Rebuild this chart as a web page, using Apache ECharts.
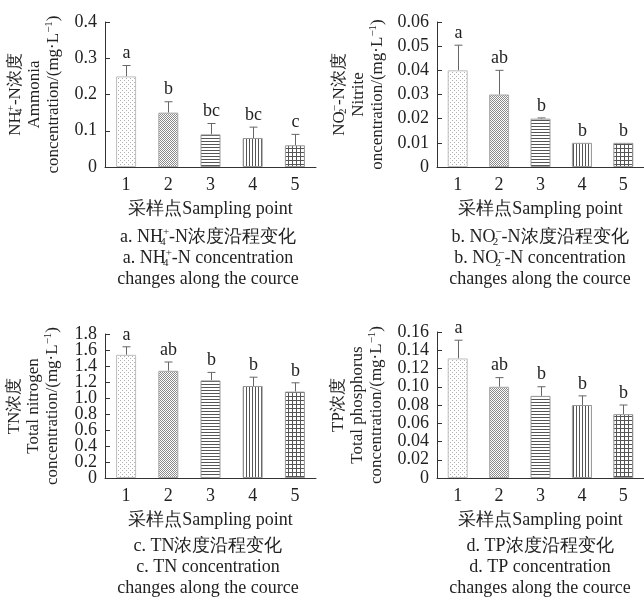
<!DOCTYPE html>
<html>
<head>
<meta charset="utf-8">
<script src="https://cdn.jsdelivr.net/npm/echarts@6/dist/echarts.min.js"></script>
<style>html,body{margin:0;padding:0;background:#fff;}#c{width:644px;height:604px;}</style>
</head>
<body>
<div id="c"></div>
<script>
// ---- data ----
const categories = ['1', '2', '3', '4', '5'];
const nh4Mean = [0.25, 0.15, 0.09, 0.08, 0.06];
const nh4Err  = [0.03, 0.03, 0.03, 0.03, 0.03];
const nh4Sig  = ['a', 'b', 'bc', 'bc', 'c'];
const no2Mean = [0.04, 0.03, 0.02, 0.01, 0.01];
const no2Err  = [0.0104, 0.01, 0.0003, 0, 0];
const no2Sig  = ['a', 'ab', 'b', 'b', 'b'];
const tnMean  = [1.54, 1.34, 1.22, 1.15, 1.08];
const tnErr   = [0.10, 0.11, 0.10, 0.11, 0.11];
const tnSig   = ['a', 'ab', 'b', 'b', 'b'];
const tpMean  = [0.131, 0.10, 0.09, 0.08, 0.07];
const tpErr   = [0.02, 0.01, 0.01, 0.01, 0.01];
const tpSig   = ['a', 'ab', 'b', 'b', 'b'];
const yMaxA = 0.4, yStepA = 0.1;
const yMaxB = 0.06, yStepB = 0.01;
const yMaxC = 1.8, yStepC = 0.2;
const yMaxD = 0.16, yStepD = 0.02;
// panel c tick labels (drawn at their values through the y scale)
const tnTickValues = [0, 0.2, 0.4, 0.6, 0.8, 1.0, 1.2, 1.4, 1.6, 1.8];
const tnTickLabels = ['0', '0.2', '0.4', '0.6', '0.8', '1.0', '1.2', '1.4', '1.6', '1.8'];

const yNames = [
  'NH{sub|4}{sup|+}-N浓度\nAmmonia\nconcentration/(mg·L{sup|−1})',
  'NO{sub|2}{sup|−}-N浓度\nNitrite\noncentration/(mg·L{sup|−1})',
  'TN浓度\nTotal nitrogen\nconcentration/(mg·L{sup|−1})',
  'TP浓度\nTotal phosphorus\nconcentration/(mg·L{sup|−1})'
];
const xName = '采样点Sampling point';
const captions = [
  'a. NH{sub|4}{sup|+}-N浓度沿程变化\na. NH{sub|4}{sup|+}-N concentration\nchanges along the cource',
  'b. NO{sub|2}{sup|−}-N浓度沿程变化\nb. NO{sub|2}{sup|−}-N concentration\nchanges along the cource',
  'c. TN浓度沿程变化\nc. TN concentration\nchanges along the cource',
  'd. TP浓度沿程变化\nd. TP concentration\nchanges along the cource'
];

// ---- patterns ----
function pat(w, h, draw) {
  const c = document.createElement('canvas');
  c.width = w; c.height = h;
  const g = c.getContext('2d');
  g.fillStyle = '#fff'; g.fillRect(0, 0, w, h);
  draw(g);
  return { image: c, repeat: 'repeat' };
}
const patterns = [
  pat(4, 4, g => { g.fillStyle = '#b0b0b0'; g.fillRect(0, 0, 1, 1); g.fillRect(2, 2, 1, 1); }),
  pat(2, 2, g => { g.fillStyle = '#8a8a8a'; g.fillRect(0, 0, 1, 1); g.fillRect(1, 1, 1, 1); }),
  pat(3, 3, g => { g.fillStyle = '#555'; g.fillRect(0, 0, 3, 1); }),
  pat(3, 3, g => { g.fillStyle = '#555'; g.fillRect(0, 0, 1, 3); }),
  pat(4, 4, g => { g.fillStyle = '#555'; g.fillRect(0, 0, 4, 1); g.fillRect(0, 0, 1, 4); })
];
const borderColors = ['#bdbdbd', '#a8a8a8', '#999', '#999', '#999'];

const FONT = '"Liberation Serif", "Times New Roman", serif';
const TXT = '#222';
function richFor(size, lh) {
  return {
    sub: { fontSize: 11, fontFamily: FONT, color: TXT, verticalAlign: 'bottom', lineHeight: lh, width: 0 },
    sup: { fontSize: 11, fontFamily: FONT, color: TXT, verticalAlign: 'top', lineHeight: lh }
  };
}

const panels = [
  { mean: nh4Mean, err: nh4Err, sig: nh4Sig, max: yMaxA, step: yStepA, dec: 1, grid: { left: 105, top: 22, width: 211, height: 145 }, gap: 42 },
  { mean: no2Mean, err: no2Err, sig: no2Sig, max: yMaxB, step: yStepB, dec: 2, grid: { left: 437, top: 22, width: 212, height: 145 }, gap: 50 },
  { mean: tnMean, err: tnErr, sig: tnSig, max: yMaxC, step: yStepC, dec: 1, grid: { left: 105, top: 334, width: 211, height: 144 }, gap: 43,
    ownTicks: { values: tnTickValues, labels: tnTickLabels } },
  { mean: tpMean, err: tpErr, sig: tpSig, max: yMaxD, step: yStepD, dec: 2, grid: { left: 437, top: 332, width: 212, height: 146 }, gap: 51 }
];

const grid = [], xAxis = [], yAxis = [], series = [];
panels.forEach((p, i) => {
  grid.push(p.grid);
  xAxis.push({
    type: 'category', gridIndex: i, data: categories,
    axisLine: { lineStyle: { color: '#333', width: 1 } },
    axisTick: { show: false },
    axisLabel: { color: TXT, fontFamily: FONT, fontSize: 18, margin: 9 },
    name: xName, nameLocation: 'middle', nameGap: 33,
    nameTextStyle: { color: TXT, fontFamily: FONT, fontSize: 18 }
  });
  yAxis.push({
    type: 'value', gridIndex: i, min: 0, max: p.max, interval: p.step,
    axisLine: { show: true, lineStyle: { color: '#333', width: 1 } },
    axisTick: { show: true, inside: true, length: 5, lineStyle: { color: '#333' } },
    splitLine: { show: false },
    axisLabel: { show: !p.ownTicks, color: TXT, fontFamily: FONT, fontSize: 18, margin: 8,
      formatter: v => (Math.abs(v) < 1e-9 ? '0' : v.toFixed(p.dec)) },
    name: yNames[i], nameLocation: 'middle', nameRotate: 90, nameGap: p.gap,
    nameTextStyle: { color: TXT, fontFamily: FONT, fontSize: 17, lineHeight: 19, align: 'center', rich: richFor(17, 19) }
  });
  series.push({
    type: 'bar', xAxisIndex: i, yAxisIndex: i, barWidth: 20,
    data: p.mean.map((v, k) => ({ value: v, itemStyle: { color: patterns[k], borderColor: borderColors[k], borderWidth: 1 } })),
    silent: true
  });
  series.push({
    type: 'custom', xAxisIndex: i, yAxisIndex: i, silent: true,
    data: p.mean.map((v, k) => [k, v, v + p.err[k]]),
    renderItem: (params, api) => {
      const base = api.coord([api.value(0), api.value(1)]);
      const top = api.coord([api.value(0), api.value(2)]);
      const x = Math.round(base[0]) + 0.5;
      const children = [];
      if (base[1] - top[1] > 0.5) {
        children.push({ type: 'line', shape: { x1: x, y1: base[1], x2: x, y2: top[1] }, style: { stroke: '#666', lineWidth: 1 } });
        children.push({ type: 'line', shape: { x1: x - 4, y1: top[1], x2: x + 4, y2: top[1] }, style: { stroke: '#666', lineWidth: 1 } });
      }
      children.push({ type: 'text', style: { text: p.sig[params.dataIndex], x: x, y: top[1] - 3,
        textAlign: 'center', textVerticalAlign: 'bottom', fill: TXT, font: '18px ' + FONT } });
      return { type: 'group', children: children };
    }
  });
  if (p.ownTicks) {
    series.push({
      type: 'custom', xAxisIndex: i, yAxisIndex: i, silent: true, clip: false,
      data: p.ownTicks.values.map((v, k) => [0, v]),
      renderItem: (params, api) => {
        const pt = api.coord([0, api.value(1)]);
        const band = api.size([1, 0])[0];
        return { type: 'text', style: { text: p.ownTicks.labels[params.dataIndex], x: pt[0] - band / 2 - 8, y: pt[1],
          textAlign: 'right', textVerticalAlign: 'middle', fill: TXT, font: '18px ' + FONT } };
      }
    });
  }
});

const graphic = [
  { cx: 208, y: 227 }, { cx: 540, y: 227 }, { cx: 208, y: 536 }, { cx: 540, y: 536 }
].map((g, i) => ({
  type: 'text', x: g.cx, y: g.y,
  style: { text: captions[i], textAlign: 'center', textVerticalAlign: 'top', fill: TXT,
    font: '18px ' + FONT, lineHeight: 21, rich: richFor(18, 21) }
}));

const chart = echarts.init(document.getElementById('c'), null, { renderer: 'canvas' });
chart.setOption({ animation: false, backgroundColor: '#fff', grid, xAxis, yAxis, series, graphic });
</script>
</body>
</html>
